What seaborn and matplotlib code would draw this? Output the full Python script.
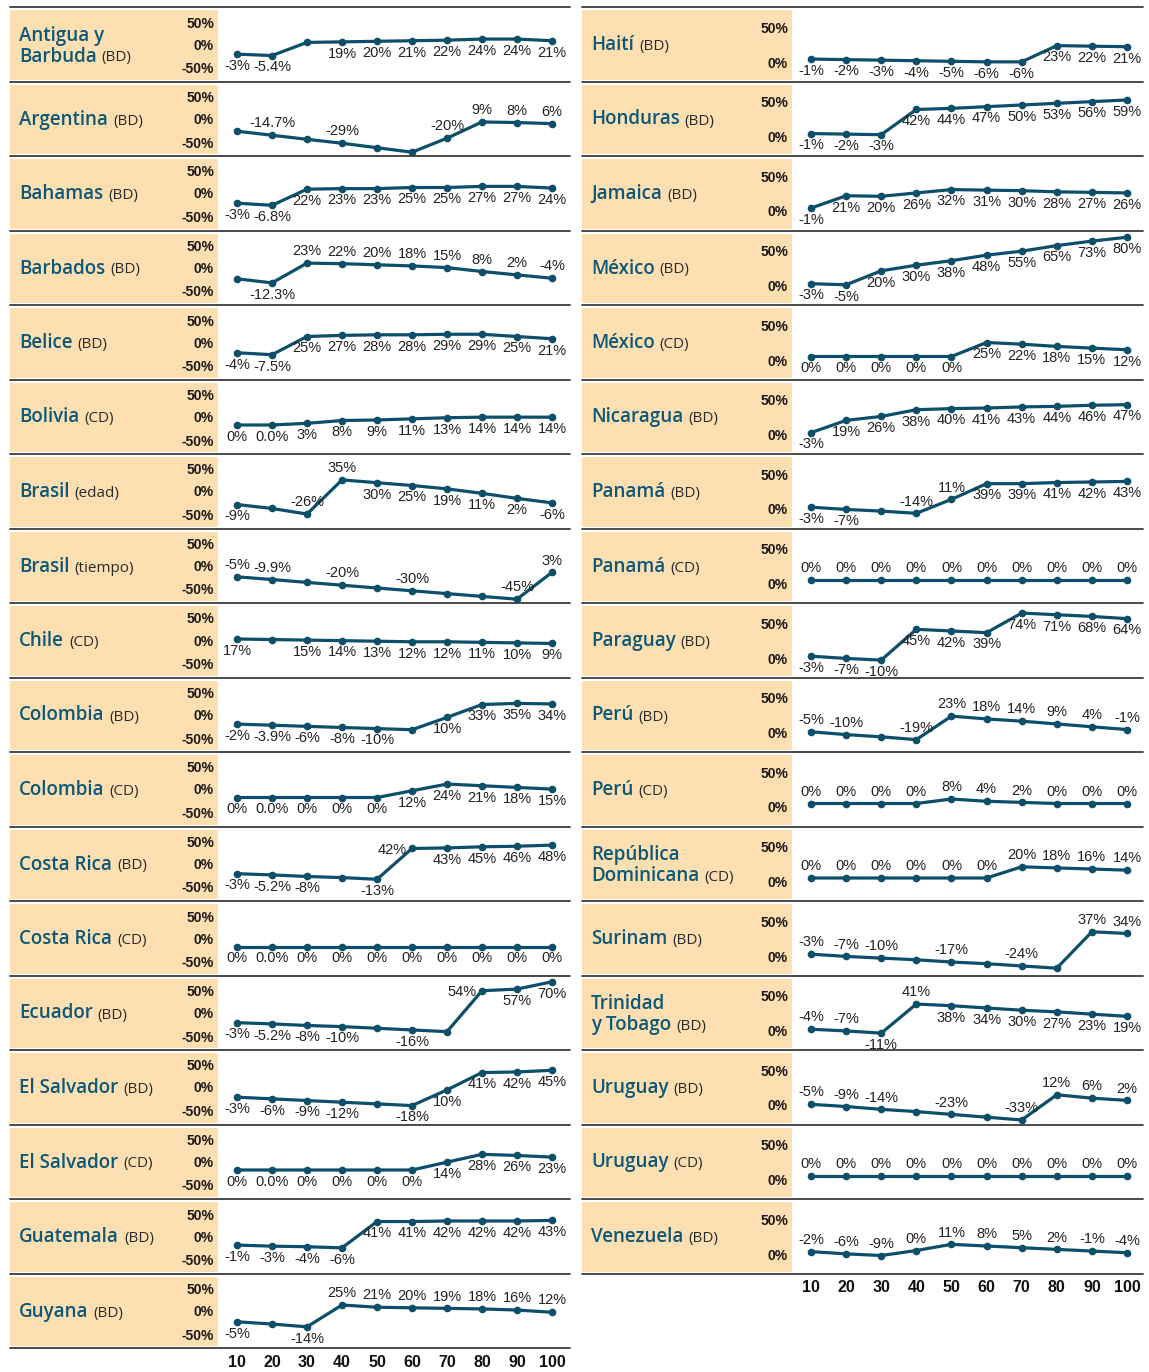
import matplotlib
matplotlib.use('Agg')
import matplotlib.pyplot as plt
import seaborn as sns
from matplotlib.lines import Line2D

# Cambio por decil (%) - paneles por país
sns.set_theme(style='white')
plt.rcParams['font.family'] = ['Liberation Sans', 'DejaVu Sans']

deciles = [10, 20, 30, 40, 50, 60, 70, 80, 90, 100]

# ----- columna izquierda -----
antigua = [-3, -5.4, 18, 19, 20, 21, 22, 24, 24, 21]
argentina = [-7.5, -14.7, -22, -29, -37, -45, -20, 9, 8, 6]
bahamas = [-3, -6.8, 22, 23, 23, 25, 25, 27, 27, 24]
barbados = [-5, -12.3, 23, 22, 20, 18, 15, 8, 2, -4]
belice = [-4, -7.5, 25, 27, 28, 28, 29, 29, 25, 21]
bolivia = [0, 0.0, 3, 8, 9, 11, 13, 14, 14, 14]
brasil_edad = [-9, -16, -26, 35, 30, 25, 19, 11, 2, -6]
brasil_tiempo = [-5, -9.9, -15, -20, -25, -30, -35, -40, -45, 3]
chile = [17, 16, 15, 14, 13, 12, 12, 11, 10, 9]
colombia_bd = [-2, -3.9, -6, -8, -10, -12, 10, 33, 35, 34]
colombia_cd = [0, 0.0, 0, 0, 0, 12, 24, 21, 18, 15]
costa_rica_bd = [-3, -5.2, -8, -10, -13, 42, 43, 45, 46, 48]
costa_rica_cd = [0, 0.0, 0, 0, 0, 0, 0, 0, 0, 0]
ecuador = [-3, -5.2, -8, -10, -13, -16, -19, 54, 57, 70]
el_salvador_bd = [-3, -6, -9, -12, -15, -18, 10, 41, 42, 45]
el_salvador_cd = [0, 0.0, 0, 0, 0, 0, 14, 28, 26, 23]
guatemala = [-1, -3, -4, -6, 41, 41, 42, 42, 42, 43]
guyana = [-5, -9, -14, 25, 21, 20, 19, 18, 16, 12]

# ----- columna derecha -----
haiti = [-1, -2, -3, -4, -5, -6, -6, 23, 22, 21]
honduras = [-1, -2, -3, 42, 44, 47, 50, 53, 56, 59]
jamaica = [-1, 21, 20, 26, 32, 31, 30, 28, 27, 26]
mexico_bd = [-3, -5, 20, 30, 38, 48, 55, 65, 73, 80]
mexico_cd = [0, 0, 0, 0, 0, 25, 22, 18, 15, 12]
nicaragua = [-3, 19, 26, 38, 40, 41, 43, 44, 46, 47]
panama_bd = [-3, -7, -10, -14, 11, 39, 39, 41, 42, 43]
panama_cd = [0, 0, 0, 0, 0, 0, 0, 0, 0, 0]
paraguay = [-3, -7, -10, 45, 42, 39, 74, 71, 68, 64]
peru_bd = [-5, -10, -14, -19, 23, 18, 14, 9, 4, -1]
peru_cd = [0, 0, 0, 0, 8, 4, 2, 0, 0, 0]
rep_dom = [0, 0, 0, 0, 0, 0, 20, 18, 16, 14]
surinam = [-3, -7, -10, -13, -17, -20, -24, -28, 37, 34]
trinidad = [-4, -7, -11, 41, 38, 34, 30, 27, 23, 19]
uruguay_bd = [-5, -9, -14, -18, -23, -28, -33, 12, 6, 2]
uruguay_cd = [0, 0, 0, 0, 0, 0, 0, 0, 0, 0]
venezuela = [-2, -6, -9, 0, 11, 8, 5, 2, -1, -4]

izquierda = [
    ("Antigua y\nBarbuda", "(BD)", antigua),
    ("Argentina", "(BD)", argentina),
    ("Bahamas", "(BD)", bahamas),
    ("Barbados", "(BD)", barbados),
    ("Belice", "(BD)", belice),
    ("Bolivia", "(CD)", bolivia),
    ("Brasil", "(edad)", brasil_edad),
    ("Brasil", "(tiempo)", brasil_tiempo),
    ("Chile", "(CD)", chile),
    ("Colombia", "(BD)", colombia_bd),
    ("Colombia", "(CD)", colombia_cd),
    ("Costa Rica", "(BD)", costa_rica_bd),
    ("Costa Rica", "(CD)", costa_rica_cd),
    ("Ecuador", "(BD)", ecuador),
    ("El Salvador", "(BD)", el_salvador_bd),
    ("El Salvador", "(CD)", el_salvador_cd),
    ("Guatemala", "(BD)", guatemala),
    ("Guyana", "(BD)", guyana),
]
derecha = [
    ("Haití", "(BD)", haiti),
    ("Honduras", "(BD)", honduras),
    ("Jamaica", "(BD)", jamaica),
    ("México", "(BD)", mexico_bd),
    ("México", "(CD)", mexico_cd),
    ("Nicaragua", "(BD)", nicaragua),
    ("Panamá", "(BD)", panama_bd),
    ("Panamá", "(CD)", panama_cd),
    ("Paraguay", "(BD)", paraguay),
    ("Perú", "(BD)", peru_bd),
    ("Perú", "(CD)", peru_cd),
    ("República\nDominicana", "(CD)", rep_dom),
    ("Surinam", "(BD)", surinam),
    ("Trinidad\ny Tobago", "(BD)", trinidad),
    ("Uruguay", "(BD)", uruguay_bd),
    ("Uruguay", "(CD)", uruguay_cd),
    ("Venezuela", "(BD)", venezuela),
]

# posición de las etiquetas: a=arriba, b=abajo, l=izquierda, -=sin etiqueta
pos_izq = ["bb-bbbbbbb", "-a-a--aaaa", "bbbbbbbbbb", "-baaaaaaaa", "bbbbbbbbbb",
           "bbbbbbbbbb", "b-aabbbbbb", "aa-a-a--aa", "b-bbbbbbbb", "bbbbb-bbbb",
           "bbbbbbbbbb", "bbb-blbbbb", "bbbbbbbbbb", "bbbb-b-lbb", "bbbb-bbbbb",
           "bbbbbbbbbb", "bbbbbbbbbb", "b-baaaaaaa"]
pos_der = ["bbbbbbbbbb", "bbbbbbbbbb", "bbbbbbbbbb", "bbbbbbbbbb", "bbbbbbbbbb",
           "bbbbbbbbbb", "bb-aabbbbb", "aaaaaaaaaa", "bbbbbbbbbb", "aa-aaaaaaa",
           "aaaaaaaaaa", "aaaaaaaaaa", "aaa-a-a-aa", "aababbbbbb", "aaa-a-aaaa",
           "aaaaaaaaaa", "aaaaaaaaaa"]

# ----- estilo y layout (en pixeles) -----
W, H = 1149, 1372
COLOR_LINEA = '#0d4e6a'
COLOR_NOMBRE = '#0c5877'
BEIGE = '#fedfb1'
FUENTE_NOMBRE = ['Open Sans', 'DejaVu Sans']
FUENTE_EJE = ['Liberation Sans Narrow', 'Liberation Sans', 'DejaVu Sans']
Y0, PASO = 7, 74.5

columnas = [
    dict(filas=izquierda, pos=pos_izq, x0=10, xlab=218, x1=570, x10=237, x100=552,
         cero=45.5, ticks=[("50%", 16.5), ("0%", 38.5), ("-50%", 62)]),
    dict(filas=derecha, pos=pos_der, x0=582, xlab=792, x1=1143, x10=811, x100=1127,
         cero=51.5, ticks=[("50%", 21.7), ("0%", 56.5)]),
]
PX_POR_PCT = 0.56

fig = plt.figure(figsize=(W / 100, H / 100), dpi=100)
renderer = fig.canvas.get_renderer()


def rect(x, y, w, h):
    return [x / W, 1 - (y + h) / H, w / W, h / H]


def fy(y):
    return 1 - y / H


for col in columnas:
    s = (col['x100'] - col['x10']) / 90
    xlim = (10 - (col['x10'] - col['xlab']) / s, 10 + (col['x1'] - col['x10']) / s)
    ylim = (-(PASO - col['cero']) / PX_POR_PCT, col['cero'] / PX_POR_PCT)
    n = len(col['filas'])
    for i, ((nombre, sufijo, serie), pos) in enumerate(zip(col['filas'], col['pos'])):
        top = Y0 + i * PASO

        # panel beige
        axl = fig.add_axes(rect(col['x0'], top + 3, col['xlab'] - col['x0'], PASO - 5))
        axl.set_facecolor(BEIGE)
        axl.set_xticks([])
        axl.set_yticks([])
        for sp in axl.spines.values():
            sp.set_visible(False)

        # nombre del país + sufijo
        lineas = nombre.split('\n')
        bases = [top + 43] if len(lineas) == 1 else [top + 33.5, top + 54.5]
        for linea, b in zip(lineas, bases):
            t = fig.text((col['x0'] + 9) / W, fy(b), linea, fontsize=13.5, fontweight='semibold',
                         color=COLOR_NOMBRE, family=FUENTE_NOMBRE, va='baseline')
        bb = t.get_window_extent(renderer)
        fig.text((bb.x1 + 5) / W, fy(bases[-1]), sufijo, fontsize=11, color='#2a2a2a',
                 family=FUENTE_NOMBRE, va='baseline')

        # marcas del eje y
        for lab, ry in col['ticks']:
            fig.text((col['xlab'] - 4) / W, fy(top + ry), lab, fontsize=10, fontweight='bold',
                     family=FUENTE_EJE, color='#1a1a1a', ha='right', va='center')

        # linea
        ax = fig.add_axes(rect(col['xlab'], top, col['x1'] - col['xlab'], PASO))
        ax.patch.set_alpha(0)
        sns.lineplot(x=deciles, y=serie, ax=ax, color=COLOR_LINEA, linewidth=2.3,
                     marker='o', markersize=5.5, markeredgewidth=0)
        ax.set_xlim(*xlim)
        ax.set_ylim(*ylim)
        ax.set_xlabel('')
        ax.set_ylabel('')
        ax.set_yticks([])
        for sp in ax.spines.values():
            sp.set_visible(False)

        for xv, v, p in zip(deciles, serie, pos):
            if p == '-':
                continue
            if p == 'a':
                off, ha = (0, 8.5), 'center'
            elif p == 'b':
                off, ha = (0, -8.5), 'center'
            else:
                off, ha = (-4, -1), 'right'
            ax.annotate(f"{v}%", (xv, v), xytext=off, textcoords='offset points',
                        ha=ha, va='center', fontsize=10.5, color='#222222')

        if i == n - 1:
            ax.set_xticks(deciles)
            ax.tick_params(axis='x', length=0, pad=5)
            for lab in ax.get_xticklabels():
                lab.set_fontfamily(FUENTE_EJE)
                lab.set_fontweight('bold')
                lab.set_fontsize(11.5)
                lab.set_color('#111111')
        else:
            ax.set_xticks([])

    # separadores
    for i in range(n + 1):
        y = fy(Y0 + i * PASO)
        fig.add_artist(Line2D([col['x0'] / W, col['x1'] / W], [y, y], color='#3c3c3c', lw=1.3))

fig.savefig('out.png', dpi=100)
